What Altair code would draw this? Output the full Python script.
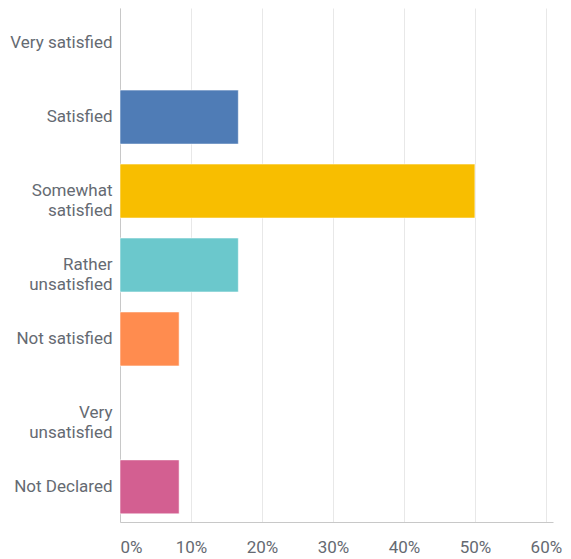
import altair as alt
import pandas as pd

categories = ["Very satisfied", "Satisfied", "Somewhat\nsatisfied", "Rather\nunsatisfied",
              "Not satisfied", "Very\nunsatisfied", "Not Declared"]
values = [0.0, 0.1667, 0.5, 0.1667, 0.0833, 0.0, 0.0833]
colors = ["#7fa6d6", "#4f7cb6", "#f8be00", "#6bc8cc", "#ff8c4f", "#a0a0a0", "#d35f91"]
x_ticks = [0, 0.1, 0.2, 0.3, 0.4, 0.5, 0.6]

df = pd.DataFrame({"category": categories, "value": values})

font = "Roboto"
label_color = "#656a72"

chart = alt.Chart(df).transform_filter("datum.value > 0").mark_bar(
    stroke="white", strokeWidth=1, strokeOpacity=0.55
).encode(
    y=alt.Y("category:N", sort=categories,
            scale=alt.Scale(domain=categories, paddingInner=0.27, paddingOuter=0.11),
            axis=alt.Axis(title=None, ticks=False, domain=True, domainColor="#c8c8c8",
                          labelExpr="split(datum.label, '\\n')", labelLineHeight=20,
                          labelPadding=8, labelFont=font, labelFontSize=17,
                          labelColor=label_color, labelLimit=200)),
    x=alt.X("value:Q",
            scale=alt.Scale(domain=[0, 0.61], nice=False),
            axis=alt.Axis(title=None, values=x_ticks, format=".0%", ticks=False,
                          domainColor="#c8c8c8", gridColor="#e8e8e8", grid=True,
                          labelFont=font, labelFontSize=17, labelColor=label_color,
                          labelPadding=17, labelFlush=False,
                          labelAlign=alt.expr("datum.value === 0 ? 'left' : 'center'"))),
    color=alt.Color("category:N", scale=alt.Scale(domain=categories, range=colors), legend=None),
).properties(
    width=433, height=514,
    autosize=alt.AutoSizeParams(type="none"),
    padding={"left": 112, "top": 0, "right": 10, "bottom": 35},
).configure_view(stroke=None)

chart.save("out.html", embed_options={"renderer": "svg", "actions": False})
